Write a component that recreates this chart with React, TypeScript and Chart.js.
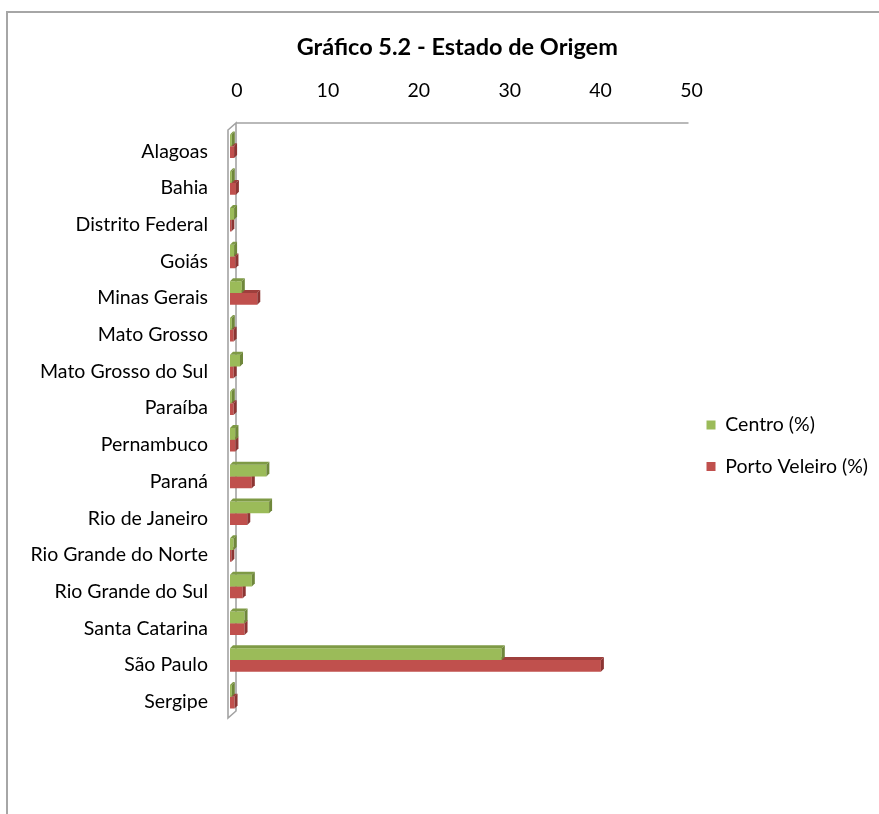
import React, { useEffect, useRef } from 'react';
import { Chart, registerables } from 'chart.js';

Chart.register(...registerables);

const titleText = 'Gráfico 5.2 - Estado de Origem';
const categories = [
  'Alagoas',
  'Bahia',
  'Distrito Federal',
  'Goiás',
  'Minas Gerais',
  'Mato Grosso',
  'Mato Grosso do Sul',
  'Paraíba',
  'Pernambuco',
  'Paraná',
  'Rio de Janeiro',
  'Rio Grande do Norte',
  'Rio Grande do Sul',
  'Santa Catarina',
  'São Paulo',
  'Sergipe',
];
const seriesNames = ['Centro (%)', 'Porto Veleiro (%)'];
const centroValues = [0.2, 0.2, 0.45, 0.45, 1.3, 0.2, 1.1, 0.2, 0.6, 4.0, 4.3, 0.4, 2.4, 1.6, 29.9, 0.2];
const portoVeleiroValues = [0.45, 0.65, 0.15, 0.6, 3.0, 0.4, 0.4, 0.4, 0.6, 2.4, 1.9, 0.15, 1.4, 1.6, 40.8, 0.5];
const xTickMin = 0;
const xTickMax = 50;
const xTickStep = 10;

const FONT = 'Lato, "Open Sans", "DejaVu Sans", sans-serif';
const GREEN = '#9BBB59';
const RED = '#C0504D';

const bar3d = {
  id: 'bar3d',
  afterDatasetDraw(chart: any, args: any) {
    const meta = args.meta;
    const ds: any = chart.data.datasets[args.index];
    const ctx = chart.ctx;
    const d = 3;
    meta.data.forEach((el: any) => {
      const p = el.getProps(['x', 'y', 'base', 'height'], true);
      const top = p.y - p.height / 2;
      const bottom = p.y + p.height / 2;
      const x = p.x;
      const base = p.base;
      ctx.save();
      ctx.fillStyle = ds.topColor;
      ctx.beginPath();
      ctx.moveTo(base, top);
      ctx.lineTo(x, top);
      ctx.lineTo(x + d, top - d);
      ctx.lineTo(base + d, top - d);
      ctx.closePath();
      ctx.fill();
      ctx.fillStyle = ds.sideColor;
      ctx.beginPath();
      ctx.moveTo(x, top);
      ctx.lineTo(x + d, top - d);
      ctx.lineTo(x + d, bottom - d);
      ctx.lineTo(x, bottom);
      ctx.closePath();
      ctx.fill();
      ctx.restore();
    });
  },
};

const wall3d = {
  id: 'wall3d',
  beforeDatasetsDraw(chart: any) {
    const { left, right, top, bottom } = chart.chartArea;
    const ctx = chart.ctx;
    const fx = left - 2;
    const bx = left + 6;
    ctx.save();
    ctx.strokeStyle = '#a3a3a3';
    ctx.lineWidth = 1.6;
    ctx.beginPath();
    ctx.moveTo(fx, top + 2);
    ctx.lineTo(fx, bottom + 3);
    ctx.lineTo(bx, bottom - 4);
    ctx.lineTo(bx, top - 5);
    ctx.closePath();
    ctx.moveTo(bx, top - 5);
    ctx.lineTo(right + 4, top - 5);
    ctx.stroke();
    ctx.restore();
  },
};

export default function App() {
  const canvasRef = useRef<HTMLCanvasElement | null>(null);

  useEffect(() => {
    document.body.style.margin = '0';
    const canvas = canvasRef.current;
    if (!canvas) return;
    const chart = new Chart(canvas, {
      type: 'bar',
      data: {
        labels: categories,
        datasets: [
          {
            label: seriesNames[0],
            data: centroValues,
            backgroundColor: GREEN,
            topColor: '#7E9A45',
            sideColor: '#6F873B',
            categoryPercentage: 0.64,
            barPercentage: 1,
          } as any,
          {
            label: seriesNames[1],
            data: portoVeleiroValues,
            backgroundColor: RED,
            topColor: '#9E3F3C',
            sideColor: '#8C3533',
            categoryPercentage: 0.64,
            barPercentage: 1,
          } as any,
        ],
      },
      options: {
        indexAxis: 'y',
        responsive: false,
        animation: false,
        layout: { padding: { top: 33, left: 0, right: 1, bottom: 99 } },
        scales: {
          x: {
            position: 'top',
            min: xTickMin,
            max: xTickMax,
            grid: { display: false, drawTicks: false },
            border: { display: false },
            afterFit: (scale: any) => {
              scale.height = 48;
            },
            ticks: {
              stepSize: xTickStep,
              padding: 26,
              labelOffset: 7,
              color: '#000',
              font: { family: FONT, size: 19.5 },
            },
          },
          y: {
            grid: { display: false, drawTicks: false },
            border: { display: false },
            afterFit: (scale: any) => {
              scale.width = 230;
            },
            ticks: {
              padding: 22,
              labelOffset: 5,
              color: '#000',
              autoSkip: false,
              font: { family: FONT, size: 19.5 },
            },
          },
        },
        plugins: {
          title: {
            display: true,
            text: titleText,
            fullSize: false,
            color: '#000',
            font: { family: FONT, size: 23.5, weight: 'bold' },
            padding: { top: 0, bottom: 18.8 },
          },
          legend: {
            position: 'right',
            fullSize: false,
            title: { display: true, text: ' ', font: { size: 10 }, padding: { top: 0, bottom: 36.5 } },
            labels: {
              boxWidth: 9,
              boxHeight: 9,
              padding: 22,
              color: '#000',
              font: { family: FONT, size: 19.5 },
            },
          },
          tooltip: { enabled: false },
        },
      } as any,
      plugins: [wall3d, bar3d],
    });
    return () => chart.destroy();
  }, []);

  return (
    <div style={{ position: 'relative', width: 879, height: 814, overflow: 'hidden', background: '#fff' }}>
      <div
        style={{
          position: 'absolute',
          left: 6,
          top: 11,
          width: 900,
          height: 900,
          borderLeft: '2px solid #a6a6a6',
          borderTop: '2px solid #a6a6a6',
        }}
      />
      <canvas ref={canvasRef} width={879} height={814} style={{ position: 'absolute', left: 0, top: 0 }} />
    </div>
  );
}
